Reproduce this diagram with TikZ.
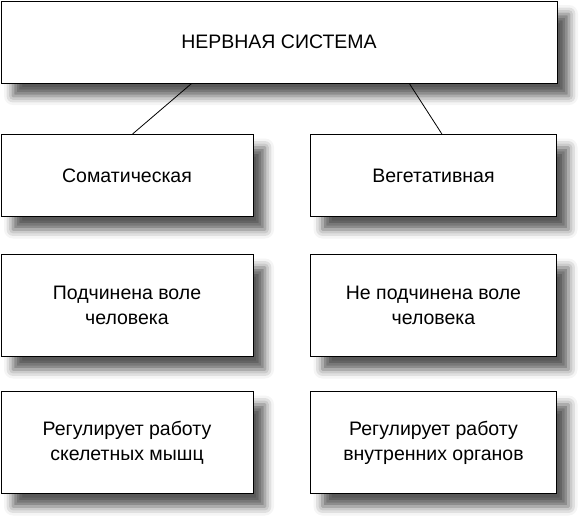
\documentclass[tikz,border=0pt]{standalone}
\usepackage{fontspec}
\setmainfont{Liberation Sans}
\usetikzlibrary{shadows.blur,calc}
\tikzset{
  box/.style={draw=black, line width=1pt, fill=white, anchor=north west,
    inner sep=0pt, align=center, font=\fontsize{19.5}{25}\selectfont,
    blur shadow={shadow xshift=12pt, shadow yshift=-13pt, shadow blur radius=9pt, shadow opacity=65}},
  conn/.style={draw=black, line width=0.8pt}
}
\begin{document}
\begin{tikzpicture}[x=1pt,y=1pt]
\useasboundingbox (0,0) rectangle (585,-523);
\node[box, minimum width=556pt, minimum height=82pt] (top) at (0.5,-0.5) {НЕРВНАЯ СИСТЕМА};
\node[box, minimum width=252pt, minimum height=82pt] (L1) at (0.5,-134) {Соматическая};
\node[box, minimum width=246pt, minimum height=82pt] (R1) at (310,-134) {Вегетативная};
\node[box, minimum width=252pt, minimum height=102pt] (L2) at (0.5,-254) {Подчинена воле\\человека};
\node[box, minimum width=246pt, minimum height=102pt] (R2) at (310,-254) {Не подчинена воле\\человека};
\node[box, minimum width=252pt, minimum height=102pt] (L3) at (0.5,-391) {Регулирует работу\\скелетных мышц};
\node[box, minimum width=246pt, minimum height=102pt] (R3) at (310,-391) {Регулирует работу\\внутренних органов};
\draw[conn] ($(top.south west)!0.343!(top.south east)$) -- ($(L1.north west)!0.522!(L1.north east)$);
\draw[conn] ($(top.south west)!0.734!(top.south east)$) -- ($(R1.north west)!0.534!(R1.north east)$);
\end{tikzpicture}
\end{document}
